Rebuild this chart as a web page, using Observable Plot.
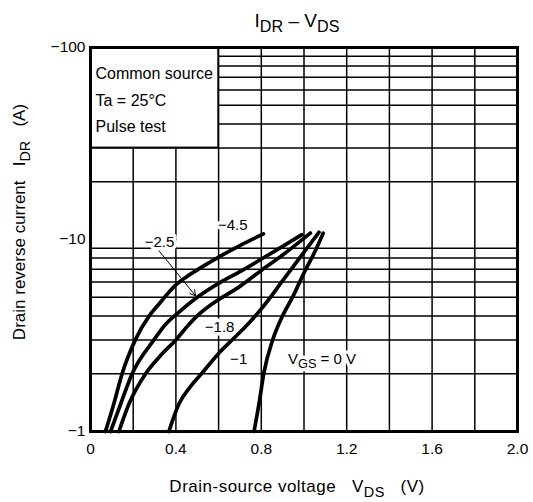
<!DOCTYPE html>
<html><head><meta charset="utf-8">
<script src="https://cdn.jsdelivr.net/npm/d3@7"></script>
<script src="https://cdn.jsdelivr.net/npm/@observablehq/plot@0.6"></script>
<style>body{margin:0;background:#fff} svg{display:block}</style>
</head><body><div id="chart"></div>
<script>
const FONT = '"Liberation Sans", Arial, Helvetica, sans-serif';

// Axis ticks and grid
const xTicks = [0, 0.4, 0.8, 1.2, 1.6, 2.0];
const yTicks = [1, 10, 100];
const gridV = [0.2, 0.4, 0.6, 0.8, 1.0, 1.2, 1.4, 1.6, 1.8];
const gridI = [2, 3, 4, 5, 6, 7, 8, 9, 20, 30, 40, 50, 60, 70, 80, 90];

// Curves: VDS (V) and |IDR| (A) for each VGS
const vgsValues = ["−4.5", "−2.5", "−1.8", "−1", "0"];
const vdsA = [0.07, 0.109, 0.148, 0.21, 0.275, 0.32, 0.36, 0.40, 0.45, 0.50, 0.60, 0.70, 0.81];
const idrA = [1, 1.39, 2.0, 3.0, 4.0, 4.6, 5.2, 5.8, 6.4, 6.95, 8.1, 9.3, 10.7];
const vdsB = [0.094, 0.141, 0.195, 0.297, 0.35, 0.405, 0.50, 0.61, 0.70, 0.80, 0.90, 0.99];
const idrB = [1, 1.39, 2.0, 3.0, 3.6, 4.1, 5.0, 6.0, 6.8, 7.9, 9.2, 10.6];
const vdsC = [0.133, 0.18, 0.258, 0.33, 0.40, 0.46, 0.50, 0.58, 0.70, 0.80, 0.90, 1.03];
const idrC = [1, 1.39, 2.0, 2.5, 3.0, 3.6, 4.0, 4.7, 5.7, 6.9, 8.3, 10.8];
const vdsD = [0.367, 0.414, 0.469, 0.52, 0.60, 0.67, 0.75, 0.80, 0.90, 1.00, 1.07];
const idrD = [1, 1.39, 1.72, 2.0, 2.55, 3.05, 3.75, 4.35, 6.1, 8.6, 10.9];
const vdsE = [0.766, 0.789, 0.8125, 0.852, 0.89, 0.95, 1.0, 1.05, 1.09];
const idrE = [1, 1.39, 2.03, 2.97, 3.8, 5.1, 6.7, 8.6, 10.8];

// Annotations
const boxNotes = ["Common source", "Ta = 25°C", "Pulse test"];
const curveLabels = ["−4.5", "−2.5", "−1.8", "−1"];
const curveLabelV = [0.666, 0.323, 0.605, 0.694];
const curveLabelI = [11.9, 9.73, 3.51, 2.39];
const vgsZeroLabel = "VGS = 0 V";
const vgsZeroV = 0.925, vgsZeroI = 2.39;
const arrowFrom = {v: 0.321, i: 8.73}, arrowTo = {v: 0.492, i: 5.09};

const series = [[vdsA, idrA], [vdsB, idrB], [vdsC, idrC], [vdsD, idrD], [vdsE, idrE]];
const rows = series.flatMap(([vs, is], k) => vs.map((v, j) => ({vgs: vgsValues[k], v, i: is[j]})));
const labelRows = curveLabels.map((t, k) => ({t, v: curveLabelV[k], i: curveLabelI[k]}));

const chart = Plot.plot({
  width: 533, height: 502,
  marginTop: 47, marginLeft: 90, marginRight: 16, marginBottom: 71,
  style: {fontFamily: FONT, fontSize: "15px", color: "black", background: "white", overflow: "visible"},
  x: {domain: [0, 2]},
  y: {type: "log", domain: [1, 100]},
  marks: [
    Plot.ruleX(gridV, {stroke: "black", strokeWidth: 1.5}),
    Plot.ruleY(gridI, {stroke: "black", strokeWidth: 1.5}),
    Plot.rect([0], {x1: 0, x2: 0.6, y1: 30, y2: 100, fill: "white", stroke: "black", strokeWidth: 1.6}),
    Plot.text([boxNotes.join("\n")], {text: d => d, frameAnchor: "top-left", dx: 5, dy: 13, lineHeight: 1.66, textAnchor: "start", fontSize: 16, fill: "black"}),
    Plot.text(labelRows, {x: "v", y: "i", text: "t", fontSize: 15, fill: "black", stroke: "white", strokeWidth: 7, paintOrder: "stroke"}),
    Plot.text([vgsZeroLabel], {x: () => vgsZeroV, y: () => vgsZeroI, text: d => d, textAnchor: "start", fontSize: 15, fill: "black", stroke: "white", strokeWidth: 7, paintOrder: "stroke"}),
    Plot.line(rows, {x: "v", y: "i", z: "vgs", stroke: "black", strokeWidth: 3.7, curve: "monotone-x"}),
    Plot.arrow([0], {x1: () => arrowFrom.v, y1: () => arrowFrom.i, x2: () => arrowTo.v, y2: () => arrowTo.i, stroke: "black", strokeWidth: 1, headLength: 9}),
    Plot.frame({stroke: "black", strokeWidth: 3}),
    Plot.axisX(xTicks, {tickFormat: d => d === 0 ? "0" : d.toFixed(1), tickSize: 0, tickPadding: 11, fontSize: 15.5, label: null}),
    Plot.axisY(yTicks, {tickFormat: d => "−" + d, tickSize: 0, tickPadding: 5, fontSize: 15.5, label: null})
  ]
});
document.getElementById("chart").appendChild(chart);

const svg = d3.select(chart);
// Subscript helper
function fillParts(t, parts, size) {
  const shift = size * 0.28;
  let off = 0;
  parts.forEach(([s, sub]) => {
    const want = sub ? shift : 0;
    t.append("tspan").attr("font-size", sub ? size * 0.85 : size).attr("dy", want - off).text(s);
    off = want;
  });
}
// Replace VGS label content with subscripted tspans
svg.selectAll("text").each(function () {
  if (this.textContent === vgsZeroLabel) {
    const t = d3.select(this);
    t.text(null);
    fillParts(t, [["V", false], ["GS", true], [" = 0 V", false]], 15);
  }
});
function addText(x, y, parts, size, rotate, spacing) {
  const t = svg.append("text").attr("font-family", FONT).attr("fill", "black")
    .attr("text-anchor", "middle").style("white-space", "pre");
  if (spacing) t.attr("letter-spacing", spacing);
  if (rotate) t.attr("transform", `translate(${x},${y}) rotate(-90)`);
  else t.attr("x", x).attr("y", y);
  fillParts(t, parts, size);
}
addText(297, 27, [["I", false], ["DR", true], [" – V", false], ["DS", true]], 19);
addText(25, 222, [["Drain reverse current   I", false], ["DR", true], ["   (A)", false]], 17, true);
addText(297, 492, [["Drain-source voltage   V", false], ["DS", true], ["   (V)", false]], 17, false, 0.5);
</script>
</body></html>
